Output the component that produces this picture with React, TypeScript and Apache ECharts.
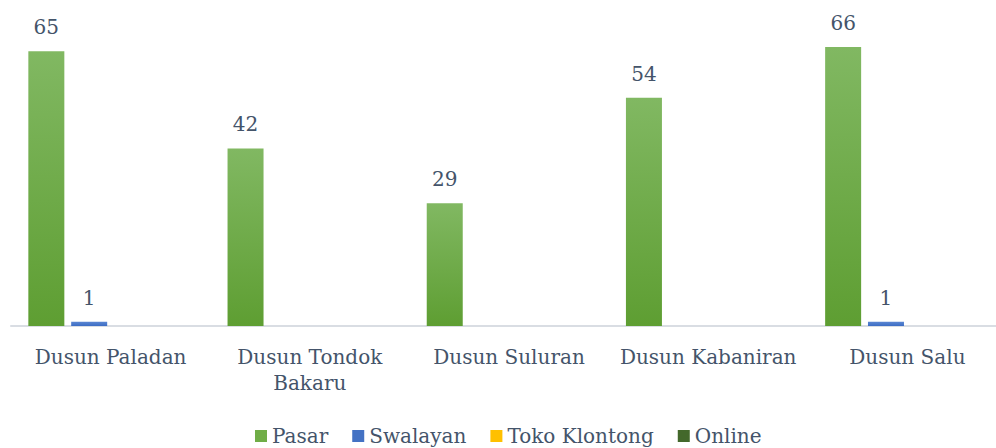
import React, { useEffect, useRef } from "react";
import * as echarts from "echarts";

const categories = ["Dusun Paladan", "Dusun Tondok\nBakaru", "Dusun Suluran", "Dusun Kabaniran", "Dusun Salu"];
const pasar = [65, 42, 29, 54, 66];
const swalayan = [1, 0, 0, 0, 1];
const tokoKlontong = [0, 0, 0, 0, 0];
const online = [0, 0, 0, 0, 0];

const FONT = "DejaVu Serif";
const TEXT = "#44546a";

function grad(top: string, bottom: string) {
  return new echarts.graphic.LinearGradient(0, 0, 0, 1, [
    { offset: 0, color: top },
    { offset: 1, color: bottom },
  ]);
}

export default function App() {
  const ref = useRef<HTMLDivElement>(null);
  useEffect(() => {
    if (!ref.current) return;
    const chart = echarts.init(ref.current, undefined, { renderer: "svg" });
    const label = {
      show: true,
      position: "top" as const,
      distance: 14,
      color: TEXT,
      fontFamily: FONT,
      fontSize: 20,
      formatter: (p: any) => (p.value ? String(p.value) : ""),
    };
    const mk = (name: string, data: number[], color: any) => ({
      name,
      type: "bar" as const,
      data,
      barWidth: 36,
      barGap: "19%",
      itemStyle: { color },
      label,
      emphasis: { disabled: true },
    });
    chart.setOption({
      animation: false,
      grid: { left: 11, width: 996, top: 30, height: 296, containLabel: false },
      legend: {
        left: 250,
        top: 420,
        itemWidth: 12,
        itemHeight: 12,
        itemGap: 24,
        icon: "rect",
        textStyle: { color: TEXT, fontFamily: FONT, fontSize: 20, lineHeight: 22 },
        data: [
          { name: "Pasar", itemStyle: { color: "#70ad47" } },
          { name: "Swalayan", itemStyle: { color: "#4472c4" } },
          { name: "Toko Klontong", itemStyle: { color: "#ffc000" } },
          { name: "Online", itemStyle: { color: "#43682b" } },
        ],
      },
      xAxis: {
        type: "category",
        data: categories,
        axisLine: { lineStyle: { color: "#d9dde3", width: 2 } },
        axisTick: { show: false },
        axisLabel: {
          color: TEXT,
          fontFamily: FONT,
          fontSize: 20,
          margin: 18,
          lineHeight: 26,
          interval: 0,
        },
      },
      yAxis: {
        type: "value",
        min: 0,
        max: 70,
        show: false,
        splitLine: { show: false },
      },
      series: [
        mk("Pasar", pasar, grad("#81b862", "#5e9e32")),
        mk("Swalayan", swalayan, grad("#5a86d2", "#3c6cc4")),
        mk("Toko Klontong", tokoKlontong, grad("#ffcd33", "#f2b800")),
        mk("Online", online, grad("#4f7a33", "#3a5f24")),
      ],
    });
    return () => chart.dispose();
  }, []);
  return (
    <div style={{ position: "fixed", left: 0, top: 0, width: 996, height: 448, overflow: "hidden", background: "#fff" }}>
      <div ref={ref} style={{ width: 1010, height: 448 }} />
    </div>
  );
}
